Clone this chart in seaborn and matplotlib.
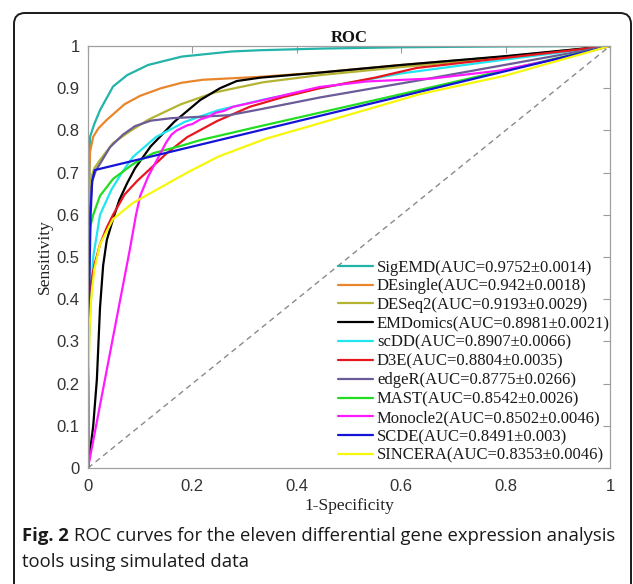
import pandas as pd
import numpy as np
import matplotlib
matplotlib.use('Agg')
import matplotlib.pyplot as plt
from matplotlib.patches import FancyBboxPatch
import seaborn as sns

sns.set_theme(style='white')
plt.rcParams['font.family'] = ['Liberation Serif', 'DejaVu Serif']

# ---------------- data ----------------
methods = ['SigEMD', 'DEsingle', 'DESeq2', 'EMDomics', 'scDD', 'D3E',
           'edgeR', 'MAST', 'Monocle2', 'SCDE', 'SINCERA']
auc_text = ['0.9752\u00b10.0014', '0.942\u00b10.0018', '0.9193\u00b10.0029',
            '0.8981\u00b10.0021', '0.8907\u00b10.0066', '0.8804\u00b10.0035',
            '0.8775\u00b10.0266', '0.8542\u00b10.0026', '0.8502\u00b10.0046',
            '0.8491\u00b10.003', '0.8353\u00b10.0046']
colors = ['#22b3a9', '#e8862c', '#b4b432', '#000000', '#22e6ef', '#e8161e',
          '#6b5b98', '#22dd22', '#ff1aff', '#1414d6', '#f7f70a']

sigemd_fpr = [0, 0.001, 0.002, 0.004, 0.012, 0.023, 0.048, 0.075, 0.115, 0.18, 0.275, 0.33, 0.45, 0.6, 0.8, 1]
sigemd_tpr = [0, 0.45, 0.65, 0.785, 0.815, 0.848, 0.904, 0.931, 0.955, 0.975, 0.987, 0.99, 0.994, 0.997, 0.999, 1]

desingle_fpr = [0, 0.001, 0.002, 0.004, 0.01, 0.02, 0.036, 0.07, 0.1, 0.14, 0.18, 0.22, 0.33, 0.444, 0.6, 0.8, 1]
desingle_tpr = [0, 0.5, 0.68, 0.75, 0.785, 0.805, 0.825, 0.862, 0.882, 0.9, 0.913, 0.92, 0.927, 0.937, 0.955, 0.975, 1]

deseq2_fpr = [0, 0.001, 0.002, 0.004, 0.012, 0.023, 0.048, 0.078, 0.115, 0.178, 0.243, 0.335, 0.444, 0.6, 0.8, 1]
deseq2_tpr = [0, 0.35, 0.55, 0.68, 0.71, 0.73, 0.77, 0.796, 0.825, 0.862, 0.89, 0.914, 0.931, 0.95, 0.974, 1]

emdomics_fpr = [0, 0.01, 0.017, 0.023, 0.029, 0.036, 0.048, 0.06, 0.075, 0.09, 0.12, 0.165, 0.215, 0.253, 0.285, 0.33, 0.444, 0.6, 0.8, 1]
emdomics_tpr = [0, 0.1, 0.21, 0.38, 0.48, 0.54, 0.59, 0.635, 0.675, 0.71, 0.762, 0.82, 0.872, 0.9, 0.917, 0.925, 0.937, 0.955, 0.976, 1]

scdd_fpr = [0, 0.001, 0.002, 0.004, 0.01, 0.023, 0.045, 0.065, 0.086, 0.13, 0.185, 0.25, 0.34, 0.444, 0.6, 0.8, 1]
scdd_tpr = [0, 0.2, 0.3, 0.36, 0.5, 0.6, 0.66, 0.7, 0.737, 0.784, 0.82, 0.848, 0.874, 0.9, 0.935, 0.968, 1]

d3e_fpr = [0, 0.001, 0.003, 0.012, 0.023, 0.036, 0.048, 0.07, 0.094, 0.12, 0.151, 0.19, 0.247, 0.31, 0.374, 0.444, 0.55, 0.63, 0.8, 1]
d3e_tpr = [0, 0.25, 0.42, 0.48, 0.53, 0.57, 0.6, 0.648, 0.68, 0.71, 0.746, 0.784, 0.822, 0.856, 0.879, 0.9, 0.925, 0.948, 0.972, 1]

edger_fpr = [0, 0.001, 0.003, 0.008, 0.015, 0.025, 0.042, 0.067, 0.09, 0.12, 0.16, 0.21, 0.27, 0.33, 0.444, 0.636, 1]
edger_tpr = [0, 0.3, 0.6, 0.68, 0.705, 0.725, 0.76, 0.79, 0.81, 0.823, 0.829, 0.832, 0.836, 0.85, 0.878, 0.919, 1]

mast_fpr = [0, 0.001, 0.002, 0.004, 0.01, 0.023, 0.048, 0.086, 0.125, 0.18, 0.215, 0.33, 0.444, 0.636, 1]
mast_tpr = [0, 0.3, 0.45, 0.57, 0.6, 0.645, 0.685, 0.72, 0.746, 0.764, 0.777, 0.81, 0.842, 0.896, 1]

monocle2_fpr = [0, 0.08, 0.092, 0.1, 0.115, 0.132, 0.15, 0.16, 0.17, 0.19, 0.2, 0.215, 0.23, 0.245, 0.26, 0.278, 0.3, 0.343, 0.444, 0.534, 0.66, 0.79, 0.918, 1]
monocle2_tpr = [0, 0.517, 0.6, 0.645, 0.69, 0.73, 0.772, 0.79, 0.8, 0.812, 0.815, 0.826, 0.832, 0.842, 0.846, 0.856, 0.862, 0.874, 0.903, 0.916, 0.923, 0.942, 0.974, 1]

scde_fpr = [0, 0.001, 0.002, 0.005, 0.008, 0.013, 1]
scde_tpr = [0, 0.2, 0.4, 0.6, 0.68, 0.706, 1]

sincera_fpr = [0, 0.001, 0.003, 0.006, 0.012, 0.023, 0.048, 0.086, 0.138, 0.19, 0.25, 0.34, 0.444, 0.636, 0.8, 1]
sincera_tpr = [0, 0.2, 0.33, 0.4, 0.47, 0.53, 0.59, 0.628, 0.664, 0.7, 0.738, 0.78, 0.817, 0.886, 0.93, 1]

x_ticks = [0, 0.2, 0.4, 0.6, 0.8, 1]
x_tick_labels = ['0', '0.2', '0.4', '0.6', '0.8', '1']
y_ticks = [0, 0.1, 0.2, 0.3, 0.4, 0.5, 0.6, 0.7, 0.8, 0.9, 1]
y_tick_labels = ['0', '0.1', '0.2', '0.3', '0.4', '0.5', '0.6', '0.7', '0.8', '0.9', '1']

all_fpr = [sigemd_fpr, desingle_fpr, deseq2_fpr, emdomics_fpr, scdd_fpr, d3e_fpr,
           edger_fpr, mast_fpr, monocle2_fpr, scde_fpr, sincera_fpr]
all_tpr = [sigemd_tpr, desingle_tpr, deseq2_tpr, emdomics_tpr, scdd_tpr, d3e_tpr,
           edger_tpr, mast_tpr, monocle2_tpr, scde_tpr, sincera_tpr]

labels = [m + '(AUC=' + a + ')' for m, a in zip(methods, auc_text)]

# long table for seaborn
frames = []
for lab, f, t in zip(labels, all_fpr, all_tpr):
    frames.append(pd.DataFrame({'curve': lab, 'fpr': f, 'tpr': t}))
df = pd.concat(frames, ignore_index=True)

# ---------------- figure ----------------
fig = plt.figure(figsize=(6.33, 5.84), dpi=100)

# background axes in pixel units, for the frame and the caption
bg = fig.add_axes([0, 0, 1, 1])
bg.set_xlim(0, 633)
bg.set_ylim(584, 0)
bg.axis('off')
frame = FancyBboxPatch((14, 13), 617, 620, boxstyle='round,pad=0,rounding_size=11',
                       fc='white', ec='#1a1a1a', lw=1.4)
bg.add_patch(frame)

ax = fig.add_axes([88/633, 1 - 468/584, 522/633, 422/584])
ax.axline((0, 0), slope=1, ls=(0, (4, 3)), color='#8a8a8a', lw=1.0, zorder=1)

sns.lineplot(data=df, x='fpr', y='tpr', hue='curve', hue_order=labels,
             palette=dict(zip(labels, colors)), sort=False, estimator=None,
             lw=1.6, legend=False, ax=ax, zorder=2)

ax.set_xlim(0, 1)
ax.set_ylim(0, 1)
ax.set_xticks(x_ticks)
ax.set_xticklabels(x_tick_labels, family=['Liberation Sans', 'DejaVu Sans'])
ax.set_yticks(y_ticks)
ax.set_yticklabels(y_tick_labels, family=['Liberation Sans', 'DejaVu Sans'])
ax.tick_params(direction='in', top=True, right=True, length=5, width=0.8,
               color='#9a9a9a', labelsize=12, labelcolor='#333333')
ax.tick_params(axis='x', pad=8)
ax.tick_params(axis='y', pad=6)
for s in ax.spines.values():
    s.set_color('#a0a0a0')
    s.set_linewidth(0.9)

ax.set_title('ROC', fontweight='bold', fontsize=12, pad=3, color='#111111')
ax.set_xlabel('1-Specificity', fontsize=12.5, labelpad=3, color='#222222')
ax.set_ylabel('Sensitivity', fontsize=12.5, labelpad=3, color='#222222')

leg = ax.legend(ax.lines[1:12], labels, loc='lower right', bbox_to_anchor=(1.008, 0.0),
                frameon=False, fontsize=12, labelspacing=0.17, handlelength=2.1,
                handletextpad=0.25, borderpad=0.25, borderaxespad=0.0)
for t in leg.get_texts():
    t.set_color('#1a1a1a')

# caption
cap_font = ['Open Sans', 'DejaVu Sans']
cap_size = 13.3
fig.canvas.draw()
r = fig.canvas.get_renderer()
t1 = bg.text(22, 536, 'Fig. 2', fontsize=cap_size, fontweight='bold', family=cap_font,
             va='center', ha='left', color='#1a1a1a')
bb = t1.get_window_extent(renderer=r)
bg.text(bb.x1 + 5, 536, 'ROC curves for the eleven differential gene expression analysis',
        fontsize=cap_size, family=cap_font, va='center', ha='left', color='#1a1a1a')
bg.text(22, 562, 'tools using simulated data', fontsize=cap_size, family=cap_font,
        va='center', ha='left', color='#1a1a1a')

fig.savefig('out.png', dpi=100)
